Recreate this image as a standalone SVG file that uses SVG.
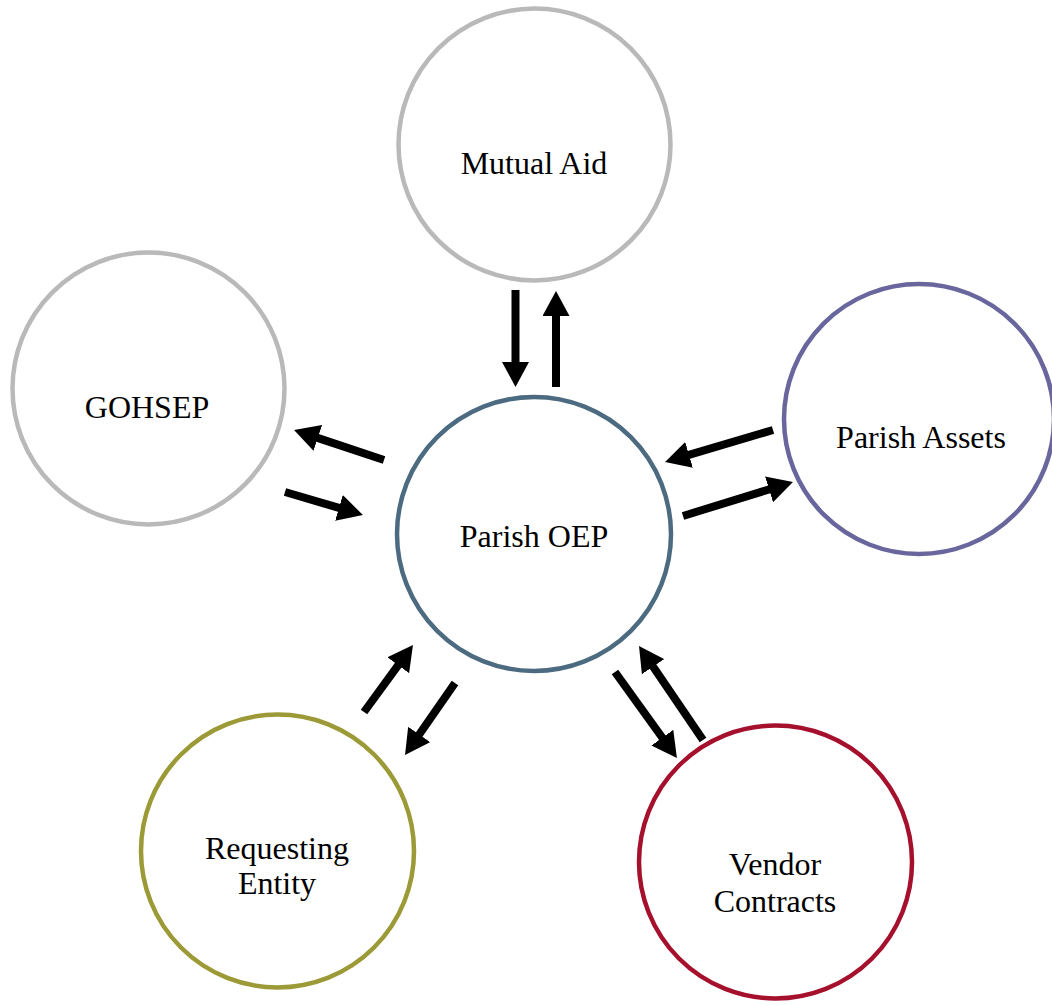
<svg xmlns="http://www.w3.org/2000/svg" width="1052" height="1005" viewBox="0 0 1052 1005">
  <style>
    .node { fill: #ffffff; stroke-width: 4.5; }
    .label { font-family: "Liberation Serif", "Times New Roman", serif; font-size: 32px; fill: #000000; text-anchor: middle; }
    .flow { stroke: #000000; stroke-width: 8; fill: none; marker-end: url(#head); }
  </style>
  <defs>
    <marker id="head" markerUnits="userSpaceOnUse" viewBox="0 0 25 27" markerWidth="25" markerHeight="27" refX="1" refY="13.5" orient="auto">
      <path d="M0,0 L25,13.5 L0,27 Z" fill="#000000"/>
    </marker>
  </defs>
  <rect width="1052" height="1005" fill="#ffffff"/>

  <g id="mutual-aid">
    <circle class="node" cx="534.5" cy="144.5" r="136" stroke="#b9b9b9"/>
    <text class="label" x="534" y="174">Mutual Aid</text>
  </g>
  <g id="gohsep">
    <circle class="node" cx="148.5" cy="388.5" r="136" stroke="#b9b9b9"/>
    <text class="label" x="147" y="418">GOHSEP</text>
  </g>
  <g id="parish-assets">
    <circle class="node" cx="919" cy="419" r="135" stroke="#68669c"/>
    <text class="label" x="921" y="448">Parish Assets</text>
  </g>
  <g id="parish-oep">
    <circle class="node" cx="534" cy="534" r="137" stroke="#4c6b80"/>
    <text class="label" x="534" y="547">Parish OEP</text>
  </g>
  <g id="requesting-entity">
    <circle class="node" cx="277.5" cy="851" r="136.5" stroke="#9b9a36"/>
    <text class="label" x="277" y="859">Requesting</text>
    <text class="label" x="277" y="894">Entity</text>
  </g>
  <g id="vendor-contracts">
    <circle class="node" cx="775.5" cy="862" r="136.5" stroke="#a5102d"/>
    <text class="label" x="775" y="875">Vendor</text>
    <text class="label" x="775" y="912">Contracts</text>
  </g>

  <g id="connectors">
    <line class="flow" x1="515.5" y1="290" x2="515.5" y2="363"/>
    <line class="flow" x1="556" y1="387" x2="556" y2="315"/>
    <line class="flow" x1="384" y1="460" x2="316.8" y2="437.6"/>
    <line class="flow" x1="285" y1="492" x2="339.9" y2="508.2"/>
    <line class="flow" x1="773" y1="430" x2="688.1" y2="455.2"/>
    <line class="flow" x1="683" y1="516" x2="770" y2="489.1"/>
    <line class="flow" x1="364" y1="712" x2="398.8" y2="664.4"/>
    <line class="flow" x1="455" y1="683" x2="418.7" y2="735.3"/>
    <line class="flow" x1="615" y1="672" x2="662.9" y2="738.5"/>
    <line class="flow" x1="703" y1="740" x2="652.5" y2="665.8"/>
  </g>
</svg>
